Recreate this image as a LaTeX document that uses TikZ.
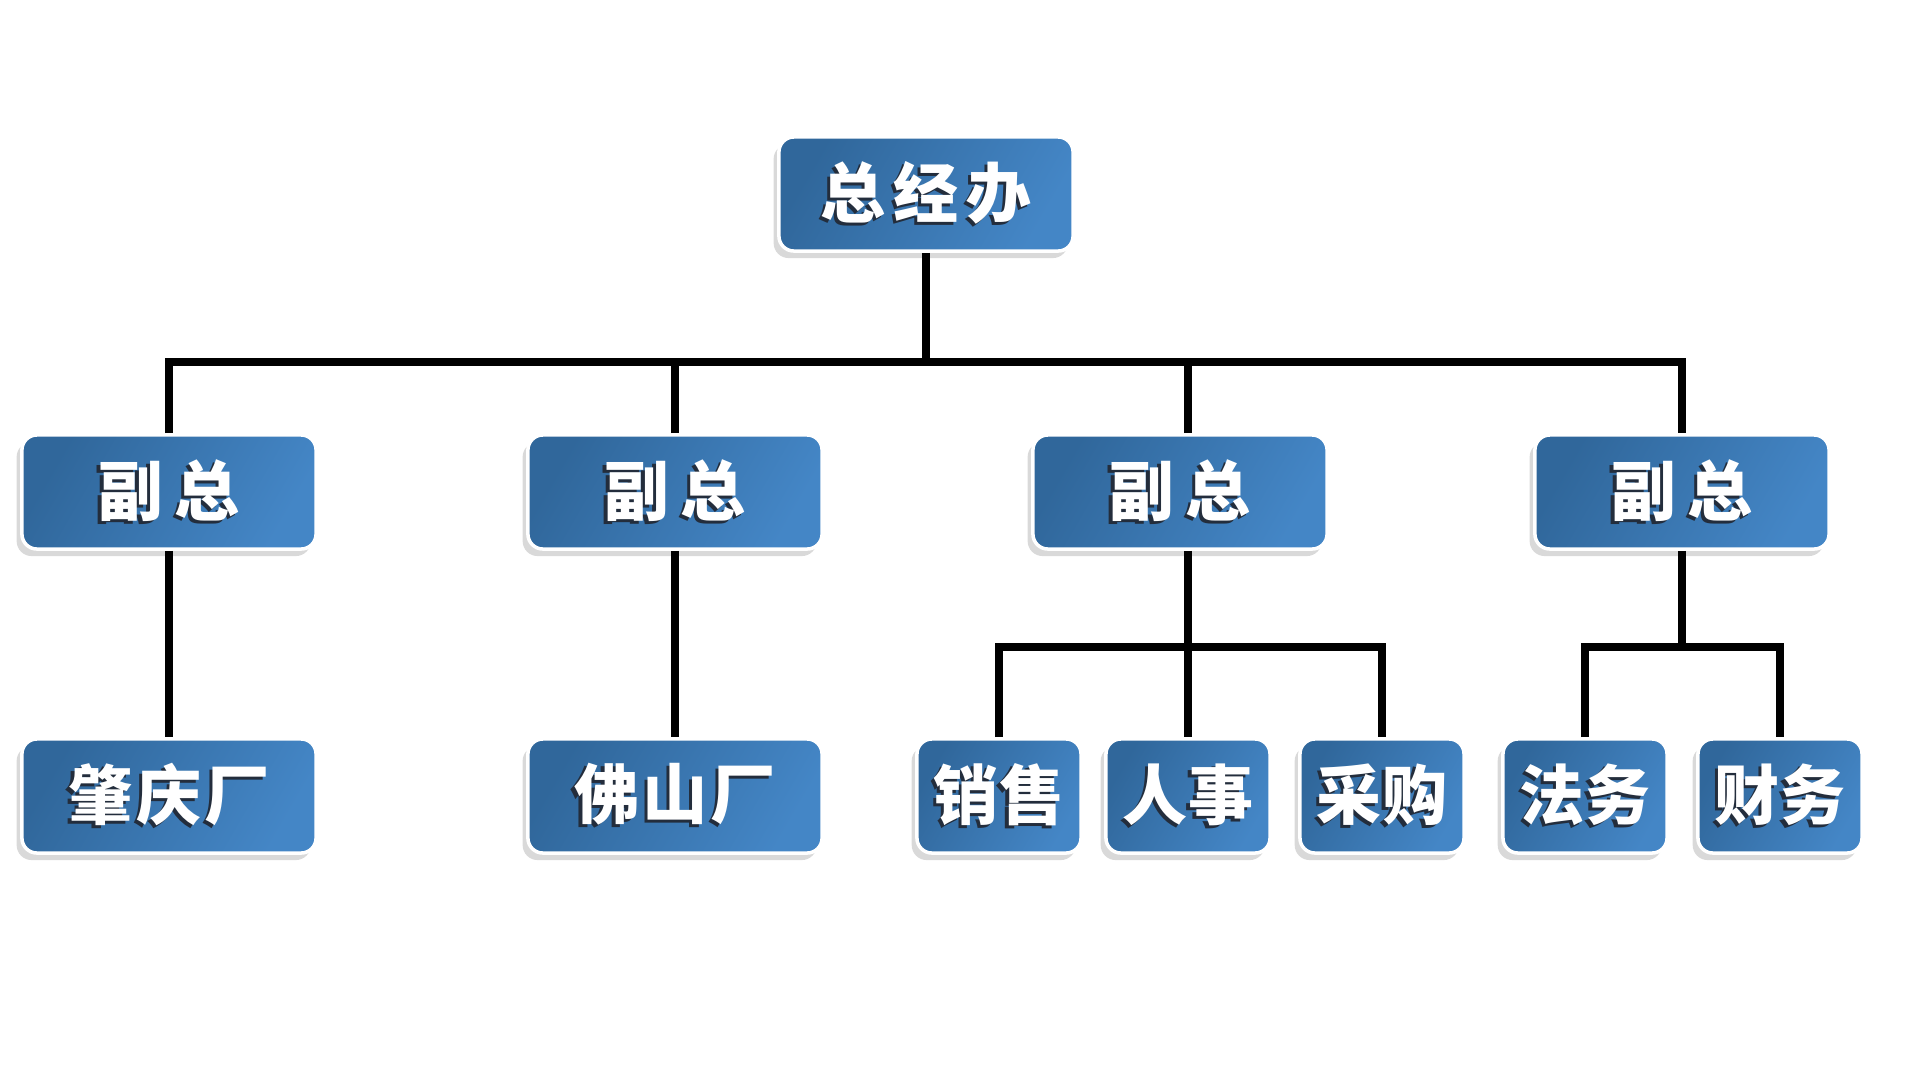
\documentclass[tikz,border=0pt]{standalone}
\usepackage{fontspec}
\newfontfamily\cjk{Noto Sans CJK SC}
\usetikzlibrary{shadows}

% box colours
\definecolor{boxdark}{RGB}{48,103,155}
\definecolor{boxlight}{RGB}{68,134,198}
\definecolor{txtshadow}{RGB}{35,45,60}

% white text with a dark offset copy behind it
\newcommand{\shtext}[1]{\rlap{\kern-0.9pt\raisebox{-0.9pt}{\textcolor{txtshadow}{#1}}}#1}

\tikzset{
  orgbox/.style={rectangle, rounded corners=0.15cm, draw=white, line width=1pt,
    left color=boxdark, right color=boxlight, shading angle=60,
    drop shadow={shadow xshift=-1.5pt, shadow yshift=-2pt, opacity=0.3},
    text=white, font=\cjk\bfseries\fontsize{18.5}{22}\selectfont,
    minimum height=1.14cm, inner sep=0pt},
  widebox/.style={orgbox, minimum width=2.94cm},
  narrowbox/.style={orgbox, minimum width=1.64cm},
  spaced/.style={font=\cjk\bfseries\fontsize{18.5}{22}\selectfont\addfontfeatures{LetterSpace=#1}},
  wire/.style={line width=2pt, black}
}

\begin{document}
\begin{tikzpicture}[x=0.01cm, y=-0.01cm]

\useasboundingbox (0,0) rectangle (1920,1087);

% bus heights
\coordinate (bus) at (0,362);
\coordinate (sub) at (0,647);

% top office
\node[widebox, spaced=12] (zjb) at (926,194) {\shtext{总经办}};

% deputies
\node[widebox, spaced=18] (vp1) at (169,492) {\shtext{副总}};
\node[widebox, spaced=18] (vp2) at (675,492) {\shtext{副总}};
\node[widebox, spaced=18] (vp3) at (1180,492) {\shtext{副总}};
\node[widebox, spaced=18] (vp4) at (1682,492) {\shtext{副总}};

% departments
\node[widebox, spaced=5] (zq) at (169,796) {\shtext{肇庆厂}};
\node[widebox, spaced=5] (fs) at (675,796) {\shtext{佛山厂}};
\node[narrowbox] (xs) at (999,796) {\shtext{销售}};
\node[narrowbox] (rs) at (1188,796) {\shtext{人事}};
\node[narrowbox] (cg) at (1382,796) {\shtext{采购}};
\node[narrowbox] (fw) at (1585,796) {\shtext{法务}};
\node[narrowbox] (cw) at (1780,796) {\shtext{财务}};

% top level wires
\draw[wire] (zjb.south) -- (zjb.south |- bus);
\draw[wire] (vp1.north) |- (zjb.south |- bus) -| (vp4.north);
\draw[wire] (vp2.north) -- (vp2.north |- bus);
\draw[wire] (vp3.north -| rs) -- (rs |- bus);

% deputy to factory
\draw[wire] (vp1.south) -- (zq.north);
\draw[wire] (vp2.south) -- (fs.north);

% deputy to departments
\draw[wire] (vp3.south -| rs) -- (rs.north);
\draw[wire] (xs.north) |- (rs |- sub) -| (cg.north);
\draw[wire] (vp4.south) -- (vp4.south |- sub);
\draw[wire] (fw.north) |- (vp4.south |- sub) -| (cw.north);

\end{tikzpicture}
\end{document}
